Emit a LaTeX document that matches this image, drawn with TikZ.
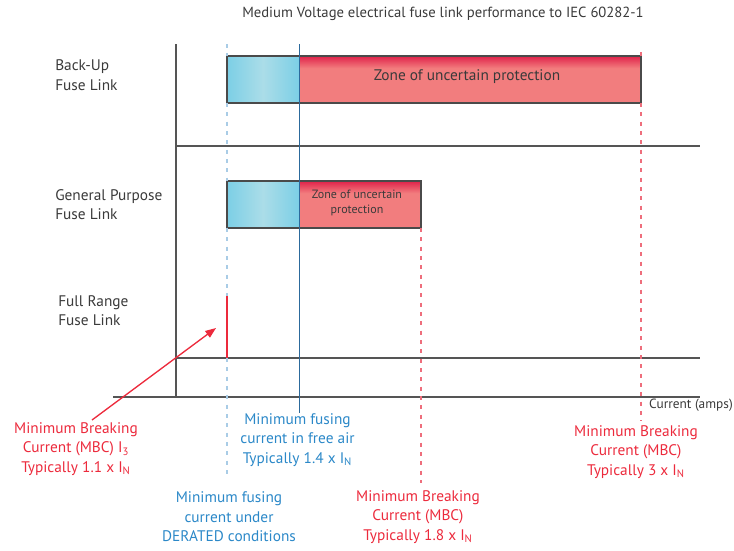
\documentclass[tikz,border=0pt]{standalone}
\usepackage{fontspec}
\setmainfont{PT Sans}
\usetikzlibrary{arrows.meta}
\definecolor{axisgrey}{HTML}{555555}
\definecolor{txtgrey}{HTML}{3A3A3A}
\definecolor{mbcred}{HTML}{EC2A3C}
\definecolor{fuseblue}{HTML}{2B88C8}
\definecolor{lightdash}{HTML}{A9CCE6}
\definecolor{darkblue}{HTML}{2C6A9C}
\definecolor{reddash}{HTML}{EE6E7C}
\definecolor{barblue}{HTML}{7CCFE6}
\definecolor{barbluelight}{HTML}{ABDDE8}
\definecolor{barred}{HTML}{F27D7E}
\definecolor{barredtop}{HTML}{E0224A}
\definecolor{barborder}{HTML}{4A4A4A}
\pgfdeclareverticalshading{redbarshade}{100bp}{color(0bp)=(barred); color(25bp)=(barred); color(62bp)=(barred); color(75bp)=(barredtop); color(100bp)=(barredtop)}
\tikzset{
  axisline/.style={draw=axisgrey, line width=1pt},
  lightdashline/.style={draw=lightdash, line width=1pt, dash pattern=on 3pt off 4pt},
  reddashline/.style={draw=reddash, line width=0.9pt, dash pattern=on 3pt off 4pt},
  darkblueline/.style={draw=darkblue, line width=0.65pt},
  bluebar/.style={left color=barblue, right color=barblue, middle color=barbluelight},
  redbar/.style={shading=redbarshade},
  barframe/.style={draw=barborder, line width=0.9pt},
  lbl/.style={inner sep=0pt, font=\fontsize{11.5}{14.6}\selectfont},
  fuselbl/.style={lbl, text=txtgrey, align=left, anchor=west},
  redlbl/.style={lbl, text=mbcred, align=center},
  bluelbl/.style={lbl, text=fuseblue, align=center},
}
\begin{document}
\begin{tikzpicture}[x=0.75pt,y=-0.75pt]
\useasboundingbox (0,0) rectangle (734,550);
% coordinates
\coordinate (ytop) at (176,44);
\coordinate (ybot) at (176,398);
\coordinate (h1l) at (176,146);
\coordinate (h1r) at (700,146);
\coordinate (h2l) at (176,358);
\coordinate (h2r) at (700,358);
\coordinate (axl) at (113,397);
\coordinate (axr) at (700,397);
\coordinate (bdtop) at (227,44);
\coordinate (bdbot) at (227,478);
\coordinate (dbtop) at (299,44);
\coordinate (dbbot) at (299,413);
\coordinate (r3top) at (641,52);
\coordinate (r3bot) at (641,421);
\coordinate (r18top) at (421,228);
\coordinate (r18bot) at (421,483);
\coordinate (frtop) at (227,296);
\coordinate (frbot) at (227,358);
\coordinate (arrstart) at (92,420);
\coordinate (arrend) at (216,328);
% bars
\coordinate (bu1) at (227,56);
\coordinate (bu2) at (299,103);
\coordinate (bu3) at (641,56);
\coordinate (gp1) at (227,181);
\coordinate (gp2) at (299,228);
\coordinate (gp3) at (421,181);
\shade[bluebar] (bu1) rectangle (bu2);
\shade[redbar] (bu2) rectangle (bu3);
\draw[barframe] (bu1) rectangle (641,103);
\shade[bluebar] (gp1) rectangle (gp2);
\shade[redbar] (gp2) rectangle (gp3);
\draw[barframe] (gp1) rectangle (421,228);
% lines
\draw[axisline] (ytop) -- (ybot);
\draw[axisline] (h1l) -- (h1r);
\draw[axisline] (h2l) -- (h2r);
\draw[axisline] (axl) -- (axr);
\draw[lightdashline] (bdtop) -- (bu1);
\draw[lightdashline] (227,103) -- (gp1);
\draw[lightdashline] (227,228) -- (frtop);
\draw[lightdashline] (h2l -| bdbot) -- (bdbot);
\draw[darkblueline] (dbtop) -- (dbbot);
\draw[reddashline] (r3top) -- (bu3);
\draw[reddashline] (641,103) -- (r3bot);
\draw[reddashline] (r18top) -- (r18bot);
\draw[mbcred, line width=0.9pt] (frtop) -- (frbot);
\draw[mbcred, line width=1pt, -{Triangle[length=8pt,width=6pt]}] (arrstart) -- (arrend);
% texts
\node[inner sep=0pt, text=txtgrey, font=\fontsize{11}{14}\selectfont] (title) at (443,14) {Medium Voltage electrical fuse link performance to IEC 60282-1};
\node[fuselbl] (backup) at (55,75) {Back-Up\\Fuse Link};
\node[fuselbl] (general) at (55,204.5) {General Purpose\\Fuse Link};
\node[fuselbl] (fullrange) at (58,310.5) {Full Range\\Fuse Link};
\node[lbl, text=txtgrey] (zone1) at (467,77) {Zone of uncertain protection};
\node[inner sep=0pt, text=txtgrey, align=center, font=\fontsize{9}{11.25}\selectfont] (zone2) at (357,202.5) {Zone of uncertain\\protection};
\node[inner sep=0pt, text=txtgrey, anchor=east, font=\fontsize{10}{12}\selectfont] (curr) at (733,405) {Current (amps)};
\node[redlbl] (mbc11) at (76,449) {Minimum Breaking\\Current (MBC) I\textsubscript{3}\\Typically 1.1 x I\textsubscript{N}};
\node[bluelbl] (mfair) at (297.5,440) {Minimum fusing\\current in free air\\Typically 1.4 x I\textsubscript{N}};
\node[redlbl] (mbc3) at (636,452) {Minimum Breaking\\Current (MBC)\\Typically 3 x I\textsubscript{N}};
\node[bluelbl] (mfder) at (229,517) {Minimum fusing\\current under\\DERATED conditions};
\node[redlbl] (mbc18) at (418,517) {Minimum Breaking\\Current (MBC)\\Typically 1.8 x I\textsubscript{N}};
\end{tikzpicture}
\end{document}
